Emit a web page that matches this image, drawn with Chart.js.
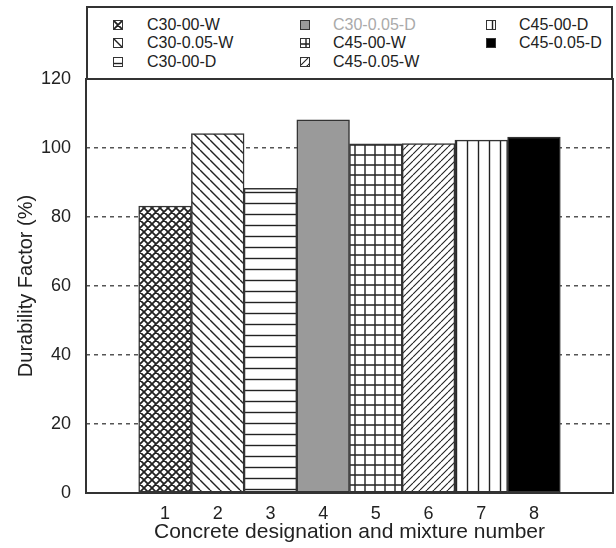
<!DOCTYPE html>
<html>
<head>
<meta charset="utf-8">
<script src="https://cdn.jsdelivr.net/npm/chart.js@4.4.0/dist/chart.umd.min.js"></script>
<style>
  body { margin: 0; background: #fff; }
  #wrap { position: relative; width: 616px; height: 548px; }
  #legend {
    position: absolute; left: 86px; top: 6px; width: 527px; height: 74px;
    box-sizing: border-box; border: 2px solid #333; background: #fff;
    font-family: "Liberation Sans", Arial, sans-serif; font-size: 16px; color: #222;
  }
  .sw { position: absolute; width: 8px; height: 8px; border: 1px solid #333; }
  .lbl { position: absolute; line-height: 18px; white-space: nowrap; }
</style>
</head>
<body>
<div id="wrap">
  <canvas id="myChart" width="616" height="548"></canvas>
  <div id="legend"></div>
</div>
<script>
'use strict';
// data
let mixNumbers = ['1', '2', '3', '4', '5', '6', '7', '8']
let mixNames = ['C30-00-W', 'C30-0.05-W', 'C30-00-D', 'C30-0.05-D', 'C45-00-W', 'C45-0.05-W', 'C45-00-D', 'C45-0.05-D']
let durability = [83.2, 104.2, 88.3, 108.2, 101.2, 101.3, 102.3, 103.2]
let yTicks = [0, 20, 40, 60, 80, 100, 120]

// one fill per bar, same order as the names
let fills = ['cross', 'back', 'horiz', 'gray', 'grid', 'fwd', 'vert', 'black']

function makeTile(kind) {
  let s = 10
  if (kind === 'cross') s = 8
  if (kind === 'horiz' || kind === 'vert') s = 11
  if (kind === 'fwd') s = 7
  let c = document.createElement('canvas')
  c.width = s
  c.height = s
  let g = c.getContext('2d')
  g.fillStyle = '#fff'
  g.fillRect(0, 0, s, s)
  g.strokeStyle = '#222'
  g.lineWidth = 1.4
  g.beginPath()
  for (let k = -1; k <= 1; k++) {
    if (kind === 'cross' || kind === 'back') {
      g.moveTo(k * s, 0); g.lineTo(k * s + s, s)
    }
    if (kind === 'cross' || kind === 'fwd') {
      g.moveTo(k * s, s); g.lineTo(k * s + s, 0)
    }
  }
  if (kind === 'cross') g.lineWidth = 1.8
  if (kind === 'fwd') g.lineWidth = 1.1
  if (kind === 'horiz' || kind === 'grid') {
    g.moveTo(0, s / 2); g.lineTo(s, s / 2)
  }
  if (kind === 'vert' || kind === 'grid') {
    g.moveTo(s / 2, 0); g.lineTo(s / 2, s)
  }
  g.stroke()
  return c
}

let ctxMain = document.getElementById('myChart').getContext('2d')
function barFill(kind) {
  if (kind === 'gray') return '#9a9a9a'
  if (kind === 'black') return '#000'
  return ctxMain.createPattern(makeTile(kind), 'repeat')
}

// legend in three columns, filled column by column
let legend = document.getElementById('legend')
let colSwatch = [25, 212, 398]
let colText = [59, 245, 431]
let rowMid = [17, 35, 54]
for (let i = 0; i < mixNames.length; i++) {
  let col = Math.floor(i / 3)
  let row = i % 3
  let sw = document.createElement('span')
  sw.className = 'sw'
  sw.style.left = colSwatch[col] + 'px'
  sw.style.top = (rowMid[row] - 5) + 'px'
  if (fills[i] === 'gray') sw.style.background = '#9a9a9a'
  else if (fills[i] === 'black') sw.style.background = '#000'
  else sw.style.background = 'url(' + makeTile(fills[i]).toDataURL() + ')'
  legend.appendChild(sw)
  let lb = document.createElement('span')
  lb.className = 'lbl'
  lb.textContent = mixNames[i]
  lb.style.left = colText[col] + 'px'
  lb.style.top = (rowMid[row] - 9) + 'px'
  if (i === 3) lb.style.color = '#aaa'
  legend.appendChild(lb)
}

// empty slot on each side so the bars sit where they do in the figure
let xLabels = [''].concat(mixNumbers, [''])
let barData = [null].concat(durability, [null])
let barColors = [null].concat(fills.map(barFill), [null])

const frame = {
  id: 'frame',
  afterDatasetsDraw(chart) {
    let a = chart.chartArea
    let c = chart.ctx
    c.save()
    c.strokeStyle = '#333'
    c.lineWidth = 2
    c.strokeRect(a.left, a.top, a.right - a.left, a.bottom - a.top)
    c.restore()
  }
}

const textFont = '"Liberation Sans", Arial, sans-serif'
const myChart = new Chart(ctxMain, {
  type: 'bar',
  data: {
    labels: xLabels,
    datasets: [{
      label: 'Durability Factor',
      data: barData,
      backgroundColor: barColors,
      borderColor: '#333',
      borderWidth: 1.5,
      borderSkipped: false,
      barPercentage: 1,
      categoryPercentage: 1
    }]
  },
  options: {
    responsive: false,
    animation: false,
    layout: { padding: { top: 79, right: 3, left: 0, bottom: 0 } },
    plugins: { legend: { display: false }, tooltip: { enabled: false } },
    scales: {
      x: {
        offset: true,
        grid: { display: false, drawTicks: false },
        border: { display: false },
        ticks: { color: '#222', font: { family: textFont, size: 18 }, padding: 10, maxRotation: 0, autoSkip: false },
        title: { display: true, text: 'Concrete designation and mixture number', color: '#222',
          font: { family: textFont, size: 21 }, padding: { top: 0, bottom: 3 } },
        afterFit(scale) { scale.height = 55 }
      },
      y: {
        min: 0,
        max: 120,
        afterBuildTicks(scale) { scale.ticks = yTicks.map(v => ({ value: v })) },
        grid: { color: '#555', lineWidth: 1.5, drawTicks: false },
        border: { display: false, dash: [4, 4] },
        ticks: { color: '#222', font: { family: textFont, size: 18 }, padding: 15 },
        title: { display: true, text: 'Durability Factor (%)', color: '#222',
          font: { family: textFont, size: 20 }, padding: { top: 14, bottom: 0 } },
        afterFit(scale) { scale.width = 86 }
      }
    }
  },
  plugins: [frame]
})
</script>
</body>
</html>
